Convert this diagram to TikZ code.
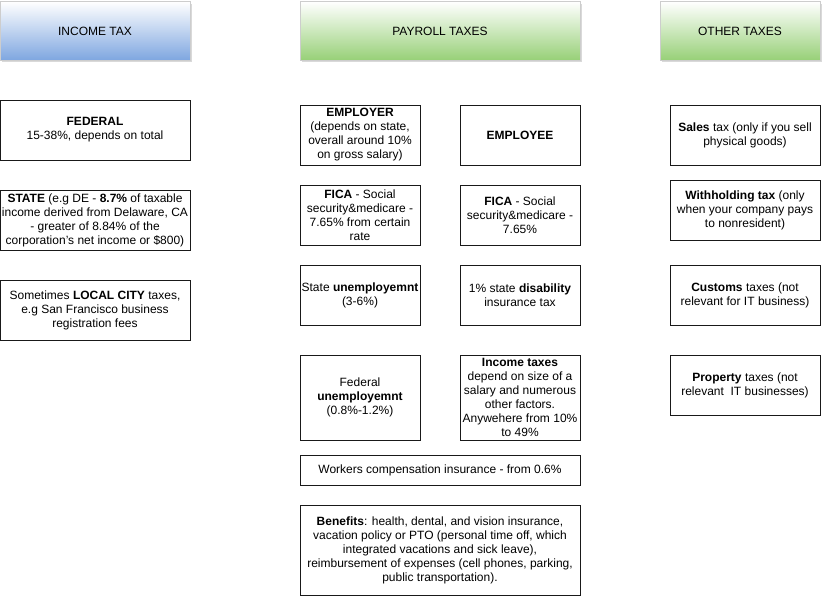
\documentclass[tikz,border=0pt]{standalone}
\usepackage{fontspec}
\setmainfont{Liberation Sans}
\usetikzlibrary{shadows}
\definecolor{incomeblue}{RGB}{126,166,224}
\definecolor{payrollgreen}{RGB}{151,208,119}
\definecolor{headedge}{RGB}{205,205,205}
\newcommand{\boxfont}{\fontsize{9}{10.5}\selectfont}
\tikzset{
  head/.style={draw=headedge,line width=.4pt,minimum height=44pt,inner sep=0pt,
               font=\boxfont,
               drop shadow={shadow xshift=1.5pt,shadow yshift=-1.5pt,opacity=.3}},
  incomehead/.style={head,top color=white,middle color=incomeblue!45,bottom color=incomeblue},
  payhead/.style={head,top color=white,middle color=payrollgreen!45,bottom color=payrollgreen},
  taxbox/.style={draw=black!90,line width=.6pt,fill=white,align=center,inner sep=0pt,
                 font=\boxfont,minimum height=45pt},
  widebox/.style={taxbox,minimum width=142.5pt},
  halfbox/.style={taxbox,minimum width=90pt},
  fullbox/.style={taxbox,minimum width=210pt},
  otherbox/.style={taxbox,minimum width=112.5pt},
}

\begin{document}
\begin{tikzpicture}[x=0.75pt,y=-0.75pt]
  \useasboundingbox (0,0) rectangle (824,600);
  % headers
  \node[incomehead,minimum width=142.5pt] (income) at (95,31) {INCOME TAX};
  \node[payhead,minimum width=210pt]      (payroll) at (440,31) {PAYROLL TAXES};
  \node[payhead,minimum width=120pt]      (other) at (740,31) {OTHER TAXES};
  % income tax
  \node[widebox] (fed) at (95,130) {\textbf{FEDERAL}\\15-38\%, depends on total};
  \node[widebox] (state) at (95,220)
    {\textbf{STATE} (e.g DE - \textbf{8.7\%} of taxable\\
     income derived from Delaware, CA\\
     - greater of 8.84\% of the\\
     corporation's net income or \$800)};
  \node[widebox] (city) at (95,310)
    {Sometimes \textbf{LOCAL CITY} taxes,\\e.g San Francisco business\\registration fees};
  % payroll taxes
  \node[halfbox] (employer) at (360,135)
    {\textbf{EMPLOYER}\\(depends on state,\\overall around 10\%\\on gross salary)};
  \node[halfbox] (employee) at (520,135) {\textbf{EMPLOYEE}};
  \node[halfbox] (ficaer) at (360,215)
    {\textbf{FICA} - Social\\security\&medicare -\\7.65\% from certain\\rate};
  \node[halfbox] (ficaee) at (520,215)
    {\textbf{FICA} - Social\\security\&medicare -\\7.65\%};
  \node[halfbox] (stunemp) at (360,295) {State \textbf{unemployemnt}\\(3-6\%)};
  \node[halfbox] (disab) at (520,295) {1\% state \textbf{disability}\\insurance tax};
  \node[halfbox,minimum height=63.75pt] (fedunemp) at (360,397.5)
    {Federal\\\textbf{unemployemnt}\\(0.8\%-1.2\%)};
  \node[halfbox,minimum height=63.75pt] (inctax) at (520,397.5)
    {\textbf{Income taxes}\\depend on size of a\\salary and numerous\\other factors.\\Anywehere from 10\%\\to 49\%};
  \node[fullbox,minimum height=22.5pt] (workers) at (440,470)
    {Workers compensation insurance - from 0.6\%};
  \node[fullbox,minimum height=67.5pt] (benefits) at (440,550)
    {\textbf{Benefits}: health, dental, and vision insurance,\\
     vacation policy or PTO (personal time off, which\\
     integrated vacations and sick leave),\\
     reimbursement of expenses (cell phones, parking,\\
     public transportation).};
  % other taxes
  \node[otherbox] (sales) at (745,135) {\textbf{Sales} tax (only if you sell\\physical goods)};
  \node[otherbox] (withhold) at (745,210)
    {\textbf{Withholding tax} (only\\when your company pays\\to nonresident)};
  \node[otherbox] (customs) at (745,295) {\textbf{Customs} taxes (not\\relevant for IT business)};
  \node[otherbox] (property) at (745,385) {\textbf{Property} taxes (not\\relevant\ \ IT businesses)};
\end{tikzpicture}
\end{document}
